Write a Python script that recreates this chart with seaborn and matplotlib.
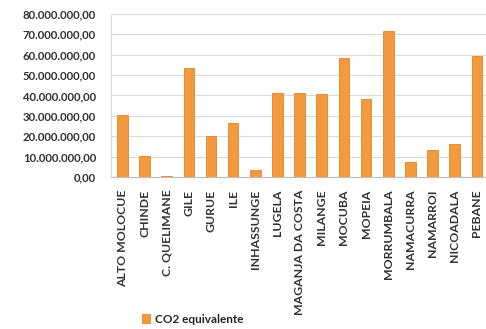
import matplotlib
matplotlib.use("Agg")
import matplotlib.pyplot as plt
import seaborn as sns
import pandas as pd
import numpy as np
from matplotlib.ticker import FuncFormatter, FixedLocator

districts = ["ALTO MOLOCUE", "CHINDE", "C. QUELIMANE", "GILE", "GURUE", "ILE",
             "INHASSUNGE", "LUGELA", "MAGANJA DA COSTA", "MILANGE", "MOCUBA",
             "MOPEIA", "MORRUMBALA", "NAMACURRA", "NAMARROI", "NICOADALA", "PEBANE"]
co2 = [30.4e6, 10.4e6, 0.3e6, 53.6e6, 20.0e6, 26.6e6, 3.4e6, 41.0e6, 41.0e6,
       40.6e6, 58.2e6, 38.2e6, 71.8e6, 7.5e6, 13.2e6, 16.0e6, 59.4e6]
series_name = "CO2 equivalente"

df = pd.DataFrame({"district": districts, "value": co2})

sns.set_style("white")
plt.rcParams["font.family"] = ["Lato", "DejaVu Sans"]

fig = plt.figure(figsize=(4.86, 3.29), dpi=100)
ax = fig.add_axes([0.229, 0.462, 0.775, 0.496])

sns.barplot(data=df, x="district", y="value", color="#F39A3E", width=0.48,
            edgecolor="#E58428", linewidth=0.6, saturation=1, ax=ax,
            label=series_name)
if ax.get_legend() is not None:
    ax.get_legend().remove()

ax.set_ylim(0, 80e6)
ax.set_yticks(np.arange(0, 80e6 + 1, 10e6))

def fmt(v, pos):
    s = f"{v:,.2f}"
    return s.replace(",", "X").replace(".", ",").replace("X", ".")

ax.yaxis.set_major_formatter(FuncFormatter(fmt))
ax.grid(axis="y", color="#D9D9D9", linewidth=0.8)
ax.set_axisbelow(True)
for side in ["top", "right"]:
    ax.spines[side].set_visible(False)
ax.spines["left"].set_color("#D9D9D9")
ax.spines["bottom"].set_color("#BFBFBF")
ax.set_xlabel("")
ax.set_ylabel("")
ax.set_xlim(-0.5, len(districts) - 0.5)

ax.tick_params(axis="y", length=0, labelsize=8.2, labelcolor="#333333", pad=11)
ax.tick_params(axis="x", which="major", length=0, labelsize=8.8, labelcolor="#333333",
               rotation=90, pad=9)
ax.xaxis.set_minor_locator(FixedLocator(np.arange(-0.5, len(districts), 1.0)))
ax.tick_params(axis="x", which="minor", length=3, color="#BFBFBF", direction="out")
for lbl in ax.get_xticklabels() + ax.get_yticklabels():
    lbl.set_fontweight("bold")

handles, labels = ax.get_legend_handles_labels()
fig.legend(handles, labels, loc="center left", bbox_to_anchor=(0.27, 0.03),
           frameon=False, handlelength=0.7, handleheight=0.7,
           handletextpad=0.4, prop={"weight": "bold", "size": 8.5})

fig.savefig("out.png", dpi=100)
